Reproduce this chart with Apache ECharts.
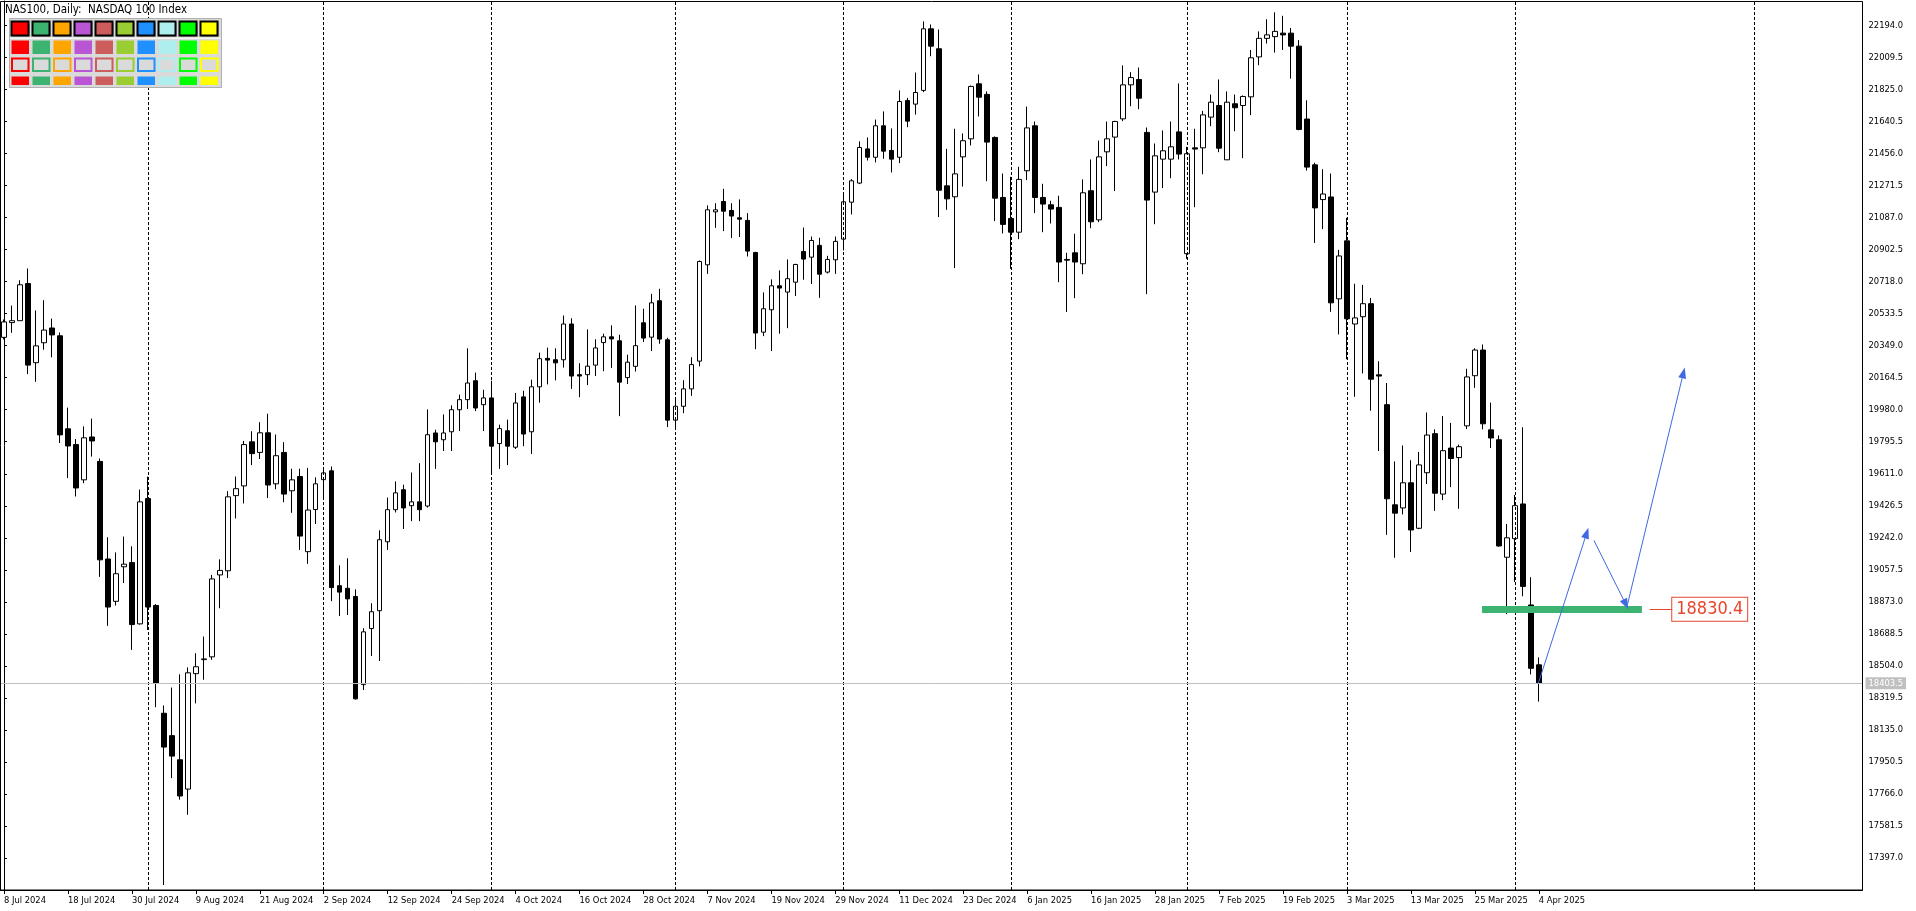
<!DOCTYPE html>
<html><head><meta charset="utf-8">
<script src="https://cdn.jsdelivr.net/npm/echarts@6/dist/echarts.min.js"></script>
<style>html,body{margin:0;padding:0;background:#fff;overflow:hidden}#c{width:1916px;height:911px}</style>
</head><body><div id="c"></div>
<script>
// ---------- data ----------
const startDate = '2024-07-08';
const endDate = '2025-04-04';
const holidays = ['2024-12-25', '2025-01-01'];
const futureSlots = 40;

const opens = [20397,20482,20493,20707,20251,20366,20451,20406,19870,19779,
19576,19823,19682,19120,18876,19075,19099,18746,19468,18852,
18231,18102,17963,17794,18459,18540,18556,19028,19052,19485,
19541,19795,19734,19847,19553,19734,19513,19595,19162,19405,
19577,19628,18966,18951,18904,18396,18719,18822,19219,19404,
19519,19427,19449,19425,19846,19807,19853,19980,20038,20147,
20009,20048,19785,19859,19764,20054,19853,20112,20276,20268,
20268,20474,20182,20182,20237,20367,20400,20377,20165,20230,
20481,20398,20608,20383,19920,20000,20100,20260,20815,21120,
21180,21128,21086,21071,20886,20427,20556,20694,20658,20715,
20892,20859,20927,20773,20844,20963,21176,21286,21483,21435,
21616,21474,21435,21762,21741,21820,22175,22060,21270,21207,
21437,21541,21858,21797,21549,21203,21082,21003,21357,21616,
21203,21161,21146,20846,20884,20821,21242,21074,21466,21551,
21656,21852,21883,21578,21234,21424,21424,21581,20879,21489,
21489,21666,21733,21420,21743,21733,21783,22013,22120,22130,
22150,22150,22075,21655,21391,21191,21206,20619,20953,20474,
20516,20591,20181,20009,19432,19414,19559,19297,19617,19842,
19494,19759,19704,19887,20176,20324,19864,19807,19130,19237,
19437,18855,18510];
const highs = [20500,20580,20726,20794,20552,20611,20505,20425,19992,19811,
19884,19929,19699,19245,19158,19249,19193,19520,19595,18860,
18276,18379,18455,18495,18577,18673,19028,19118,19511,19595,
19800,19856,19908,19957,19837,19793,19640,19640,19645,19590,
19634,19653,19083,19124,18945,18721,18865,19285,19474,19567,
19548,19618,19672,19982,19865,19953,20005,20067,20334,20194,
20095,20147,19894,19923,20077,20089,20153,20309,20338,20334,
20523,20507,20248,20443,20386,20418,20466,20412,20297,20581,
20562,20648,20677,20395,20050,20150,20283,20840,21157,21170,
21253,21170,21192,21113,20890,20656,20731,20783,20846,20821,
21030,20978,20971,20867,20978,21232,21309,21526,21549,21652,
21699,21601,21820,21777,21923,22217,22200,22171,21483,21599,
21572,21848,21912,21814,21555,21341,21322,21380,21727,21641,
21282,21184,21213,20884,20994,21307,21422,21531,21641,21645,
21964,21925,21952,21606,21514,21589,21641,21860,21495,21599,
21702,21796,21883,21814,21796,21791,22053,22160,22230,22270,
22250,22180,22110,21763,21403,21366,21341,20901,21086,20706,
20699,20624,20259,20134,19682,19774,19689,19737,19964,19867,
19944,19904,19779,20216,20334,20356,20021,19832,19322,19489,
19879,19015,18553];
const lows = [20385,20423,20493,20185,20141,20326,20282,19788,19586,19480,
19557,19710,19017,18735,18852,18981,18596,18742,18711,18266,
17241,17857,17733,17646,18288,18424,18539,18836,19010,19353,
19440,19661,19696,19471,19522,19447,19386,19172,19092,19322,
19476,18877,18791,18797,18310,18365,18561,18532,19172,19388,
19293,19338,19338,19416,19639,19742,19742,19857,19984,19972,
19857,19618,19639,19661,19754,19770,19725,20021,20126,20149,
20223,20100,20052,20122,20174,20202,20221,19943,20128,20200,
20370,20318,20360,19880,19880,19960,20060,20230,20763,21028,
21009,20969,20975,20863,20329,20404,20318,20418,20450,20635,
20729,20704,20625,20765,20763,20898,21105,21280,21416,21405,
21426,21347,21401,21608,21681,21810,22017,21090,21132,20796,
21266,21503,21670,21297,21067,20996,20792,20963,21303,21113,
21003,21053,20715,20543,20623,20761,21026,21061,21384,21240,
21643,21729,21712,20646,21049,21257,21314,21422,20850,21147,
21337,21614,21464,21420,21585,21430,21678,21965,22090,22038,
22053,21888,21590,21358,20941,21021,20544,20414,20271,20054,
20189,19974,19742,19259,19127,19377,19160,19292,19552,19397,
19459,19534,19409,19869,20106,19867,19759,19190,18802,18987,
18905,18455,18298];
const closes = [20486,20493,20700,20237,20348,20439,20411,19835,19771,19529,
19818,19800,19115,18843,19035,19090,18742,19449,18843,18405,
18036,17984,17754,18464,18499,18544,19005,19054,19478,19525,
19779,19727,19847,19546,19715,19494,19576,19252,19402,19553,
19616,18955,18929,18890,18314,18700,18816,19231,19404,19501,
19414,19449,19404,19836,19795,19846,19980,20038,20134,19990,
20048,19770,19871,19770,20019,19840,20112,20274,20266,20250,
20474,20174,20174,20231,20336,20400,20388,20139,20254,20349,
20393,20596,20387,19920,20000,20100,20240,20834,21132,21132,
21124,21096,21078,20894,20422,20562,20694,20681,20735,20817,
20848,20955,20761,20846,20950,21178,21299,21491,21435,21616,
21470,21424,21756,21643,21808,22175,22075,21245,21195,21339,
21530,21843,21781,21522,21199,21048,21003,21307,21604,21203,
21165,21136,20831,20842,20831,21230,21063,21437,21541,21641,
21852,21894,21775,21188,21443,21472,21495,21453,21455,21482,
21679,21752,21487,21752,21720,21785,22008,22120,22140,22160,
22140,22075,21595,21378,21143,21223,20596,20866,20504,20509,
20591,20156,20174,19467,19384,19559,19287,19662,19834,19499,
19744,19699,19767,20169,20324,19899,19817,19195,19242,19427,
18962,18490,18403.5];

const yTickLabels = ['17397.0','17581.5','17766.0','17950.5','18135.0','18319.5','18504.0','18688.5',
'18873.0','19057.5','19242.0','19426.5','19611.0','19795.5','19980.0','20164.5','20349.0','20533.5',
'20718.0','20902.5','21087.0','21271.5','21456.0','21640.5','21825.0','22009.5','22194.0'];

const separatorIdx = [18, 40, 61, 84, 105, 126, 148, 168, 189, 219];
const currentPrice = 18403.5;
const levelPrice = 18830.4;
const levelFrom = 184.9, levelTo = 204.9;
const calloutFrom = 205.9, calloutTo = 208.7;
const arrows = [
  [[191.95, 18404], [198.0, 19270]],
  [[198.9, 19227], [202.9, 18858]],
  [[203.1, 18858], [210.1, 20193]]
];
const paletteColors = ['#FF0000','#3CB371','#FFA500','#BA55D3','#CD5C5C','#9ACD32','#1E90FF','#AFEEEE','#00FF00','#FFFF00'];
const titleText = 'NAS100, Daily:  NASDAQ 100 Index';

// ---------- categories ----------
const MONTHS = ['Jan','Feb','Mar','Apr','May','Jun','Jul','Aug','Sep','Oct','Nov','Dec'];
const categories = [];
(function () {
  let d = new Date(startDate + 'T00:00:00Z');
  const end = new Date(endDate + 'T00:00:00Z');
  while (d <= end) {
    const wd = d.getUTCDay();
    const iso = d.toISOString().slice(0, 10);
    if (wd !== 0 && wd !== 6 && holidays.indexOf(iso) < 0) {
      categories.push(d.getUTCDate() + ' ' + MONTHS[d.getUTCMonth()] + ' ' + d.getUTCFullYear());
    }
    d = new Date(d.getTime() + 86400000);
  }
  for (let k = 0; k < futureSlots; k++) categories.push('');
})();
const ohlc = opens.map((o, i) => [o, closes[i], lows[i], highs[i]]);

// ---------- layout ----------
const FONT = "'DejaVu Sans Condensed', 'Liberation Sans', sans-serif";
const AXIS_FONT_SIZE = 9.3;
const SLOT = 8;
const nSlots = 233;
const gridLeft = -1.5;
const gridTop = 1;
const gridW = SLOT * nSlots;
const gridH = 889;
const yMin = 17212.5;
const yMax = 22335.2;

const chart = echarts.init(document.getElementById('c'), null, { renderer: 'canvas' });

const panel = [];
panel.push({ type: 'rect', shape: { x: 9.5, y: 18.5, width: 212, height: 69 }, style: { fill: '#dadada', stroke: '#b0b0b0', lineWidth: 1 }, z: 50 });
panel.push({ type: 'rect', shape: { x: 10, y: 37.5, width: 211, height: 1.5 }, style: { fill: '#f4f4f4' }, z: 51 });
paletteColors.forEach((c, k) => {
  const x = 11.5 + 21 * k;
  panel.push({ type: 'rect', shape: { x: x + 1, y: 22.5, width: 17, height: 14 }, style: { fill: '#808080' }, z: 51 });
  panel.push({ type: 'rect', shape: { x: x, y: 21.5, width: 17, height: 14 }, style: { fill: c, stroke: '#000', lineWidth: 2 }, z: 52 });
  panel.push({ type: 'rect', shape: { x: x, y: 40.5, width: 17.5, height: 13.5 }, style: { fill: c }, z: 52 });
  panel.push({ type: 'rect', shape: { x: x + 0.5, y: 58.5, width: 16.5, height: 12.5 }, style: { fill: '#dadada', stroke: c, lineWidth: 2 }, z: 52 });
  panel.push({ type: 'rect', shape: { x: x, y: 76.5, width: 17.5, height: 8.5 }, style: { fill: c }, z: 52 });
});

const markLineBase = { silent: true, symbol: 'none', animation: false, label: { show: false } };
const labelInterval = (idx, val) => idx % 8 === 0 && val !== '';

const option = {
  animation: false,
  backgroundColor: '#ffffff',
  title: {
    text: titleText, left: 5, top: 4, padding: 0,
    textStyle: { fontFamily: FONT, fontSize: 11.5, fontWeight: 'normal', color: '#000' }
  },
  grid: { left: gridLeft, top: gridTop, width: gridW, height: gridH, show: false, containLabel: false },
  xAxis: [{
    type: 'category',
    data: categories,
    boundaryGap: true,
    axisLine: { show: true, lineStyle: { color: '#000', width: 1 } },
    axisTick: { show: true, alignWithLabel: true, length: 4, interval: labelInterval, lineStyle: { color: '#000' } },
    axisLabel: { show: true, align: 'left', margin: 6, interval: labelInterval,
      fontFamily: FONT, fontSize: AXIS_FONT_SIZE, color: '#000' },
    splitLine: { show: false }
  }, {
    type: 'value', min: -0.5, max: nSlots - 0.5, show: false,
    axisLine: { show: false }, axisTick: { show: false }, axisLabel: { show: false }, splitLine: { show: false }
  }],
  yAxis: {
    type: 'value', position: 'right',
    min: yMin, max: yMax, interval: 184.5,
    axisLine: { show: true, lineStyle: { color: '#000', width: 1 } },
    axisTick: { show: true, length: 3, lineStyle: { color: '#000' }, customValues: yTickLabels.map(Number) },
    axisLabel: {
      show: true, margin: 6, fontFamily: FONT, fontSize: AXIS_FONT_SIZE, color: '#000',
      customValues: yTickLabels.map(Number),
      formatter: v => Number(v).toFixed(1)
    },
    splitLine: { show: false }
  },
  graphic: [
    { type: 'rect', shape: { x: 0.5, y: 1.5, width: 1862, height: 888.5 }, style: { fill: 'none', stroke: '#000', lineWidth: 1 }, z: 40, silent: true },
    ...panel
  ],
  series: [
    {
      type: 'line', xAxisIndex: 1, data: [], z: 1, silent: true,
      markLine: Object.assign({}, markLineBase, {
        data: separatorIdx.map(i => ({ xAxis: i, lineStyle: { color: '#000', width: 1, type: [3, 2] } }))
          .concat([
            { yAxis: currentPrice, lineStyle: { color: '#c0c0c0', width: 1, type: 'solid' },
              label: { show: true, position: 'end', distance: 3, formatter: currentPrice.toFixed(1),
                backgroundColor: '#c0c0c0', color: '#ffffff', padding: [2, 3, 1, 3], fontFamily: FONT, fontSize: AXIS_FONT_SIZE } },
            [ { coord: [levelFrom, levelPrice] },
              { coord: [levelTo, levelPrice], lineStyle: { color: '#3CB371', width: 7, type: 'solid', cap: 'butt' } } ]
          ])
      })
    },
    {
      type: 'candlestick',
      data: ohlc,
      z: 2,
      barWidth: 5,
      itemStyle: { color: '#ffffff', color0: '#000000', borderColor: '#000000', borderColor0: '#000000', borderWidth: 1 }
    },
    {
      type: 'line', xAxisIndex: 1, data: [], z: 3, silent: true,
      markLine: Object.assign({}, markLineBase, {
        data: [
          [ { coord: [calloutFrom, levelPrice] },
            { coord: [calloutTo, levelPrice], lineStyle: { color: '#E8452C', width: 1, type: 'solid' },
              label: { show: true, position: 'end', distance: 0, formatter: levelPrice.toFixed(1),
                color: '#E8452C', backgroundColor: '#ffffff', borderColor: '#E8452C', borderWidth: 1,
                padding: [3, 4, 2, 4], fontFamily: FONT, fontSize: 18 } } ]
        ].concat(arrows.map(a => [
          { coord: a[0], symbol: 'none' },
          { coord: a[1], symbol: 'triangle', symbolSize: [8, 11], lineStyle: { color: '#4169E1', width: 1, type: 'solid' }, itemStyle: { color: '#4169E1' } }
        ]))
      })
    }
  ]
};
chart.setOption(option);
</script>
</body></html>
